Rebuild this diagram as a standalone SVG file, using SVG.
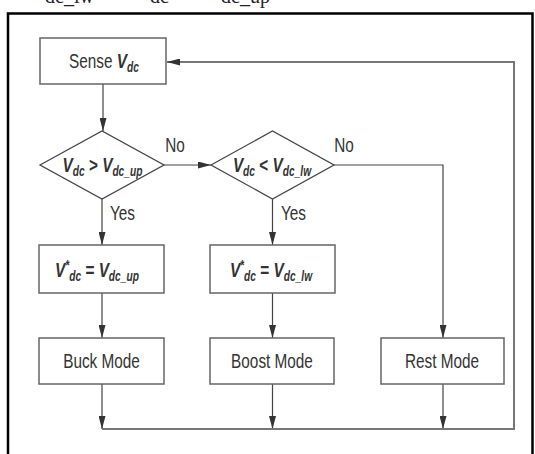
<svg xmlns="http://www.w3.org/2000/svg" width="535" height="454" viewBox="0 0 535 454">
<defs>
<marker id="ah" markerUnits="userSpaceOnUse" markerWidth="13" markerHeight="7" refX="13" refY="3.5" orient="auto">
<path d="M0,0 L13,3.5 L0,7 z" fill="#333"/>
</marker>
<style>
.box{fill:#fff;stroke:#666;stroke-width:1.5}
.dia{fill:#fff;stroke:#444;stroke-width:1.3}
.ln{fill:none;stroke:#444;stroke-width:1.2}
.loop{fill:none;stroke:#777;stroke-width:2}
.t{font-family:"Liberation Sans",Arial,sans-serif;font-size:21px;fill:#333;text-anchor:middle}
.ts{font-family:"Liberation Sans",Arial,sans-serif;font-size:21px;fill:#333}
.bi{font-weight:bold;font-style:italic}
.b{font-weight:bold}
.sub{font-size:14px;font-weight:bold;font-style:italic}
.cap{font-family:"Liberation Serif","Times New Roman",serif;font-size:20px;fill:#222}
</style>
</defs>
<rect width="535" height="454" fill="#fff"/>
<text class="cap" x="45" y="3">dc_lw</text>
<text class="cap" x="150" y="3">dc</text>
<text class="cap" x="221" y="3">dc_up</text>
<path d="M8,460 V13.5 H532.5 V460" fill="none" stroke="#000" stroke-width="2.5"/>
<g id="connectors">
<path class="ln" d="M103,84 V131" marker-end="url(#ah)"/>
<path class="ln" d="M164,165 H211" marker-end="url(#ah)"/>
<path class="ln" d="M334,165 H443 V338" marker-end="url(#ah)"/>
<path class="ln" d="M102,199 V245" marker-end="url(#ah)"/>
<path class="ln" d="M272.5,199 V245" marker-end="url(#ah)"/>
<path class="ln" d="M102,293 V338" marker-end="url(#ah)"/>
<path class="ln" d="M272.5,293 V338" marker-end="url(#ah)"/>
<path class="ln" d="M102,384 V429" marker-end="url(#ah)"/>
<path class="ln" d="M272.5,384 V429" marker-end="url(#ah)"/>
<path class="ln" d="M443,384 V429" marker-end="url(#ah)"/>
<path class="loop" d="M102,429 H514 V62 H167" marker-end="url(#ah)"/>
<text class="t" transform="translate(175,152) scale(0.73,1)">No</text>
<text class="t" transform="translate(344,152) scale(0.73,1)">No</text>
<text class="ts" transform="translate(110,220) scale(0.73,1)">Yes</text>
<text class="ts" transform="translate(281,220) scale(0.73,1)">Yes</text>
</g>
<g id="sense">
<rect class="box" x="40" y="38" width="126" height="46"/>
<text class="t" transform="translate(104,68) scale(0.73,1)">Sense <tspan class="bi">V</tspan><tspan class="sub" dy="4">dc</tspan></text>
</g>
<g id="cond_up">
<polygon class="dia" points="40,165 102,131 164,165 102,199"/>
<text class="t" transform="translate(102.5,172) scale(0.73,1)"><tspan class="bi">V</tspan><tspan class="sub" dy="4">dc</tspan><tspan class="b" dy="-4"> &gt; </tspan><tspan class="bi">V</tspan><tspan class="sub" dy="4">dc_up</tspan></text>
</g>
<g id="cond_lw">
<polygon class="dia" points="211,165 272.5,131 334,165 272.5,199"/>
<text class="t" transform="translate(272,172) scale(0.73,1)"><tspan class="bi">V</tspan><tspan class="sub" dy="4">dc</tspan><tspan class="b" dy="-4"> &lt; </tspan><tspan class="bi">V</tspan><tspan class="sub" dy="4">dc_lw</tspan></text>
</g>
<g id="set_up">
<rect class="box" x="39" y="245" width="125" height="48"/>
<text class="t" transform="translate(97,277) scale(0.73,1)"><tspan class="bi">V</tspan><tspan class="sub" dy="-7">*</tspan><tspan class="sub" dy="11">dc</tspan><tspan class="b" dy="-4"> = </tspan><tspan class="bi">V</tspan><tspan class="sub" dy="4">dc_up</tspan></text>
</g>
<g id="set_lw">
<rect class="box" x="210" y="245" width="125" height="48"/>
<text class="t" transform="translate(271,277) scale(0.73,1)"><tspan class="bi">V</tspan><tspan class="sub" dy="-7">*</tspan><tspan class="sub" dy="11">dc</tspan><tspan class="b" dy="-4"> = </tspan><tspan class="bi">V</tspan><tspan class="sub" dy="4">dc_lw</tspan></text>
</g>
<g id="buck">
<rect class="box" x="39" y="338" width="125" height="46"/>
<text class="t" transform="translate(101.5,368) scale(0.73,1)">Buck Mode</text>
</g>
<g id="boost">
<rect class="box" x="210" y="338" width="124" height="46"/>
<text class="t" transform="translate(272,368) scale(0.73,1)">Boost Mode</text>
</g>
<g id="rest">
<rect class="box" x="381" y="338" width="123" height="46"/>
<text class="t" transform="translate(442,368) scale(0.73,1)">Rest Mode</text>
</g>
</svg>
